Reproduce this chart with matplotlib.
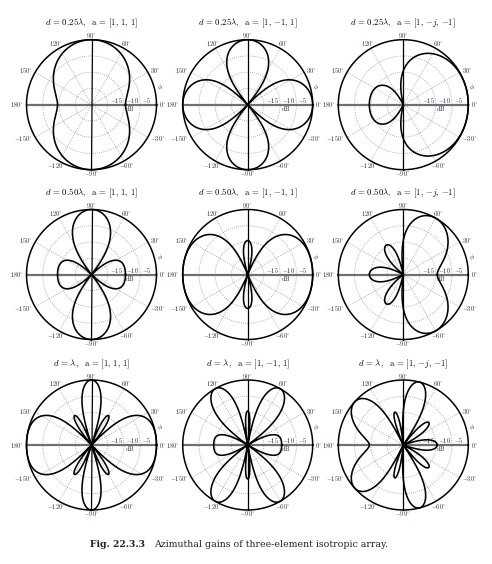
import numpy as np
import matplotlib
matplotlib.use("Agg")
import matplotlib.pyplot as plt

plt.rcParams['mathtext.fontset'] = 'cm'

# ---- data ----
spacings = [0.25, 0.50, 1.0]                 # element spacing in wavelengths (rows)
spacing_labels = [r'0.25\lambda', r'0.50\lambda', r'\lambda']
weights = [[1, 1, 1], [1, -1, 1], [1, -1j, -1]]   # array weights (columns)
weight_labels = [r'[1,\,1,\,1]', r'[1,\,{-1},\,1]', r'[1,\,{-j},\,{-1}]']
db_range = 20.0                               # dB range shown
db_rings = [-15, -10, -5]                     # grid circles (dB)
angle_ticks = [0, 30, 60, 90, 120, 150, 180, -150, -120, -90, -60, -30]
caption_bold = 'Fig. 22.3.3'
caption_text = 'Azimuthal gains of three-element isotropic array.'

W, H = 492, 564
fig = plt.figure(figsize=(W / 100, H / 100), dpi=100)

col_cx = [91.5, 247.7, 403.3]
row_cy = [104.7, 274.5, 445.0]
R = 65.0

phi = np.linspace(0, 2 * np.pi, 3601)
lab_col = '#3a2a22'
db_col = '#22264a'

for i, d in enumerate(spacings):
    for j, a in enumerate(weights):
        cx, cy = col_cx[j], row_cy[i]
        ax = fig.add_axes([(cx - R) / W, (H - cy - R) / H, 2 * R / W, 2 * R / H],
                          projection='polar')
        ax.set_ylim(0, 1)
        ax.grid(False)
        ax.set_xticks([])
        ax.set_yticks([])
        ax.spines['polar'].set_visible(False)
        ax.patch.set_alpha(0)

        # array factor
        psi = 2 * np.pi * d * np.cos(phi)
        af = np.zeros_like(phi, dtype=complex)
        for n, an in enumerate(a):
            af += an * np.exp(1j * n * psi)
        g = np.abs(af)
        g = g / g.max()
        gdb = 20 * np.log10(np.maximum(g, 1e-12))
        rr = np.clip((gdb + db_range) / db_range, 0, 1)

        # grid
        tt = np.linspace(0, 2 * np.pi, 400)
        for dbv in db_rings:
            ax.plot(tt, np.full_like(tt, (dbv + db_range) / db_range), ls=(0, (1, 1.5)),
                    color='#9a9a9a', lw=0.6, zorder=1)
        for th in range(30, 360, 30):
            if th % 90 == 0:
                continue
            ax.plot([np.deg2rad(th)] * 2, [0, 1], ls=(0, (1, 1.5)), color='#9a9a9a',
                    lw=0.6, zorder=1)
        ax.plot([0, np.pi], [1, 1], color='#707070', lw=1.6, zorder=2, clip_on=False)
        ax.plot([np.pi / 2, 3 * np.pi / 2], [1, 1], color='black', lw=0.9, zorder=2,
                clip_on=False)
        ax.plot(tt, np.ones_like(tt), color='black', lw=1.1, zorder=3, clip_on=False)

        # pattern
        ax.plot(phi, rr, color='black', lw=1.15, zorder=4, clip_on=False)

        # angle labels
        for ang in angle_ticks:
            th = np.deg2rad(ang)
            c = np.cos(th)
            lab = r'$%d^{\circ}$' % ang
            if c > 0.8:
                ax.text(th, 1.04, lab, ha='left', va='center', fontsize=4.6, color=lab_col)
            elif c < -0.8:
                ax.text(th, 1.04, lab, ha='right', va='center', fontsize=4.6, color=lab_col)
            elif abs(c) < 0.1:
                ax.text(th, 1.06, lab, ha='center', va='center', fontsize=4.6, color=lab_col)
            else:
                ax.text(th, 1.085, lab, ha='center', va='center', fontsize=4.6, color=lab_col)
        ax.text(np.deg2rad(14.5), 1.085, r'$\phi$', ha='center', va='center',
                fontsize=5, color='#2a2a5a')

        # dB labels
        for dbv in db_rings:
            rv = (dbv + db_range) / db_range + 0.03
            ax.annotate(r'$%d$' % dbv, xy=(0, rv), xytext=(0, 3), textcoords='offset points',
                        ha='left', va='center', fontsize=4.6, color=db_col)
        ax.annotate(r'$\mathrm{dB}$', xy=(0, 0.585), xytext=(0, -2.8),
                    textcoords='offset points', ha='center', va='center',
                    fontsize=4.6, color=db_col)

        # title
        title = r'$d\,=\,%s,\ \ \mathrm{a}\,=\,%s$' % (spacing_labels[i], weight_labels[j])
        fig.text(cx / W, 1 - (cy - 81) / H, title, ha='center', va='center',
                 fontsize=6.3, color='black')

# caption: fit widths to the reference layout
renderer = fig.canvas.get_renderer()
cap_y = 1 - 544.3 / H
t1 = fig.text(90 / W, cap_y, caption_bold, ha='left', va='center', fontsize=7,
              family='DejaVu Serif', weight='bold', color='#222222')
t2 = fig.text(154 / W, cap_y, caption_text, ha='left', va='center', fontsize=7,
              family='DejaVu Serif', color='#222222')
w1 = t1.get_window_extent(renderer).width
w2 = t2.get_window_extent(renderer).width
t1.set_fontsize(7 * 55.0 / w1)
t2.set_fontsize(7 * 234.0 / w2)

fig.savefig('out.png', dpi=100)
